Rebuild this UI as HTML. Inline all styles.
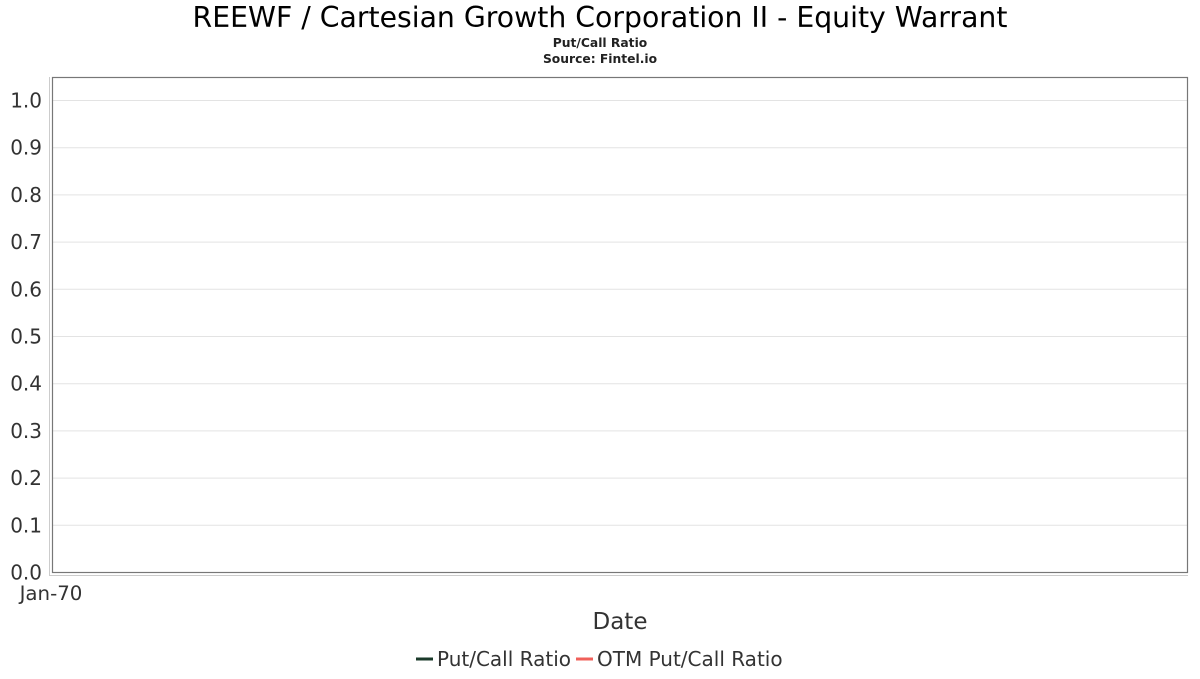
<!DOCTYPE html>
<html><head><meta charset="utf-8"><style>
body{margin:0;background:#fff;font-family:"DejaVu Sans","Liberation Sans",sans-serif;}
</style></head><body>
<svg width="1200" height="675" xmlns="http://www.w3.org/2000/svg" font-family="DejaVu Sans, Liberation Sans, sans-serif">
<text x="600" y="27" text-anchor="middle" font-size="28.3" fill="#000">REEWF / Cartesian Growth Corporation II - Equity Warrant</text>
<text x="600" y="47" text-anchor="middle" font-size="12.3" font-weight="bold" fill="#222">Put/Call Ratio</text>
<text x="600" y="63" text-anchor="middle" font-size="12.3" font-weight="bold" fill="#222">Source: Fintel.io</text>
<g id="grid"></g>
<rect x="52.5" y="77.5" width="1135" height="495" fill="none" stroke="#777" stroke-width="1.2"/>
<line x1="49.5" y1="77" x2="49.5" y2="576" stroke="#ccc"/>
<line x1="49" y1="575.5" x2="1188" y2="575.5" stroke="#ccc"/>
<g id="yt"></g>
<text x="51" y="600" text-anchor="middle" font-size="19.8" fill="#333">Jan-70</text>
<text x="620" y="629" text-anchor="middle" font-size="23" fill="#333">Date</text>
<g>
<line x1="416" y1="659" x2="433" y2="659" stroke="#1a3a2a" stroke-width="3"/>
<text x="437" y="666" font-size="20" fill="#333">Put/Call Ratio</text>
<line x1="576" y1="659" x2="593" y2="659" stroke="#f0605a" stroke-width="3"/>
<text x="597" y="666" font-size="20" fill="#333">OTM Put/Call Ratio</text>
</g>
</svg>
<script>
const yTicks=[0,0.1,0.2,0.3,0.4,0.5,0.6,0.7,0.8,0.9,1.0];
const putCall=[];
const otmPutCall=[];
const ns="http://www.w3.org/2000/svg";
function y(v){return 572-v*472;}
const g=document.getElementById('grid'),yt=document.getElementById('yt');
yTicks.forEach(v=>{
 if(v>0){const l=document.createElementNS(ns,'line');
 l.setAttribute('x1',53);l.setAttribute('x2',1187);l.setAttribute('y1',y(v)+0.5);l.setAttribute('y2',y(v)+0.5);
 l.setAttribute('stroke','#e3e3e3');
 
 
 g.appendChild(l);}
 const t=document.createElementNS(ns,'text');
 t.setAttribute('x',42);t.setAttribute('y',y(v)+7.5);t.setAttribute('text-anchor','end');
 t.setAttribute('font-size','20');t.setAttribute('fill','#333');t.textContent=v.toFixed(1);
 
 
 yt.appendChild(t);
});
</script>
</body></html>
